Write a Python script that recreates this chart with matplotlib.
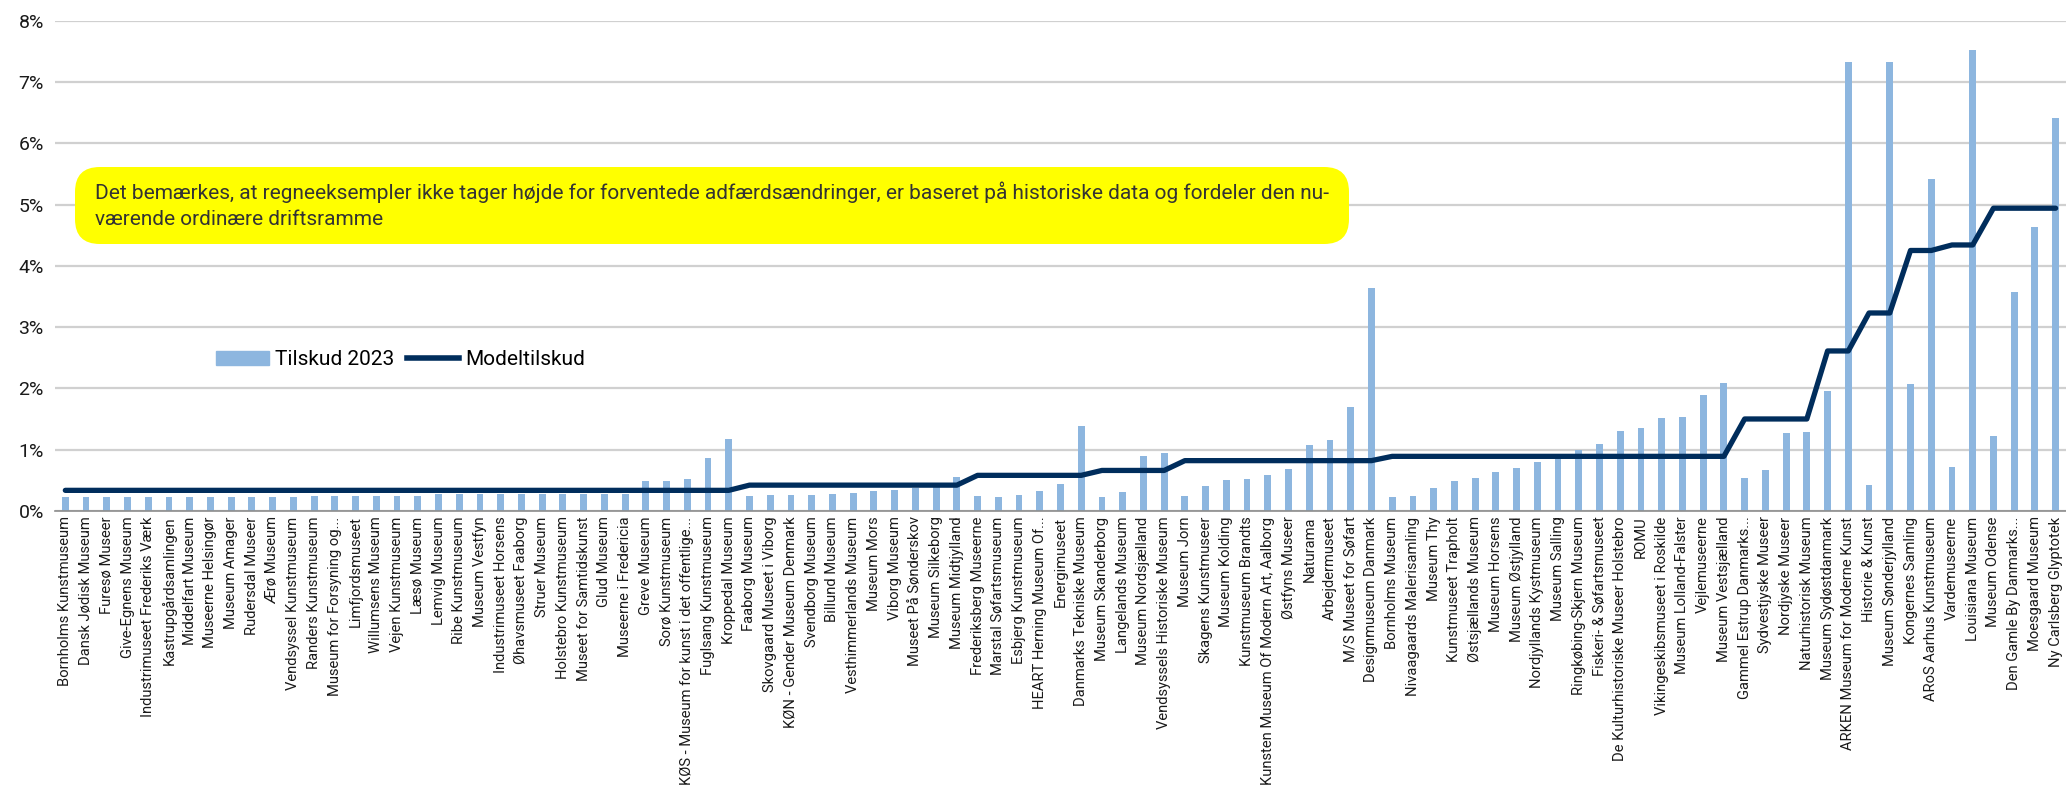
import matplotlib
matplotlib.use("Agg")
from matplotlib import pyplot as plt
from matplotlib.patches import FancyBboxPatch
from matplotlib.lines import Line2D
from matplotlib.patches import Patch
from matplotlib.ticker import FuncFormatter
import numpy as np

plt.rcParams['font.family'] = ['Roboto', 'DejaVu Sans']

museums = [
    "Bornholms Kunstmuseum", "Dansk Jødisk Museum", "Furesø Museer", "Give-Egnens Museum",
    "Industrimuseet Frederiks Værk", "Kastrupgårdsamlingen", "Middelfart Museum",
    "Museerne Helsingør", "Museum Amager", "Rudersdal Museer", "Ærø Museum",
    "Vendsyssel Kunstmuseum", "Randers Kunstmuseum", "Museum for Forsyning og...",
    "Limfjordsmuseet", "Willumsens Museum", "Vejen Kunstmuseum", "Læsø Museum",
    "Lemvig Museum", "Ribe Kunstmuseum", "Museum Vestfyn", "Industrimuseet Horsens",
    "Øhavsmuseet Faaborg", "Struer Museum", "Holstebro Kunstmuseum",
    "Museet for Samtidskunst", "Glud Museum", "Museerne i Fredericia", "Greve Museum",
    "Sorø Kunstmuseum", "KØS - Museum for kunst i det offentlige...", "Fuglsang Kunstmuseum",
    "Kroppedal Museum", "Faaborg Museum", "Skovgaard Museet i Viborg",
    "KØN - Gender Museum Denmark", "Svendborg Museum", "Billund Museum",
    "Vesthimmerlands Museum", "Museum Mors", "Viborg Museum", "Museet På Sønderskov",
    "Museum Silkeborg", "Museum Midtjylland", "Frederiksberg Museerne",
    "Marstal Søfartsmuseum", "Esbjerg Kunstmuseum", "HEART Herning Museum Of...",
    "Energimuseet", "Danmarks Tekniske Museum", "Museum Skanderborg", "Langelands Museum",
    "Museum Nordsjælland", "Vendsyssels Historiske Museum", "Museum Jorn",
    "Skagens Kunstmuseer", "Museum Kolding", "Kunstmuseum Brandts",
    "Kunsten Museum Of Modern Art, Aalborg", "Østfyns Museer", "Naturama",
    "Arbejdermuseet", "M/S Museet for Søfart", "Designmuseum Danmark", "Bornholms Museum",
    "Nivaagaards Malerisamling", "Museum Thy", "Kunstmuseet Trapholt",
    "Østsjællands Museum", "Museum Horsens", "Museum Østjylland",
    "Nordjyllands Kystmuseum", "Museum Salling", "Ringkøbing-Skjern Museum",
    "Fiskeri- & Søfartsmuseet", "De Kulturhistoriske Museer Holstebro", "ROMU",
    "Vikingeskibsmuseet i Roskilde", "Museum Lolland-Falster", "Vejlemuseerne",
    "Museum Vestsjælland", "Gammel Estrup Danmarks...", "Sydvestjyske Museer",
    "Nordjyske Museer", "Naturhistorisk Museum", "Museum Sydøstdanmark",
    "ARKEN Museum for Moderne Kunst", "Historie & Kunst", "Museum Sønderjylland",
    "Kongernes Samling", "ARoS Aarhus Kunstmuseum", "Vardemuseerne", "Louisiana Museum",
    "Museum Odense", "Den Gamle By Danmarks...", "Moesgaard Museum", "Ny Carlsberg Glyptotek",
]

# andel i procent
tilskud_2023 = [
    0.23, 0.23, 0.23, 0.23, 0.23, 0.23, 0.23, 0.23, 0.23, 0.23, 0.23, 0.23, 0.24, 0.25,
    0.25, 0.25, 0.25, 0.25, 0.27, 0.27, 0.27, 0.28, 0.28, 0.28, 0.28, 0.28, 0.28, 0.28,
    0.48, 0.49, 0.52, 0.86, 1.18, 0.24, 0.26, 0.26, 0.26, 0.27, 0.29, 0.33, 0.34, 0.38,
    0.40, 0.56, 0.24, 0.23, 0.26, 0.33, 0.44, 1.38, 0.23, 0.30, 0.90, 0.94, 0.24, 0.40,
    0.50, 0.52, 0.59, 0.69, 1.08, 1.16, 1.70, 3.64, 0.23, 0.25, 0.37, 0.49, 0.53, 0.63,
    0.70, 0.79, 0.85, 0.99, 1.09, 1.30, 1.35, 1.51, 1.54, 1.89, 2.08, 0.53, 0.66, 1.27,
    1.28, 1.95, 7.33, 0.43, 7.33, 2.07, 5.42, 0.71, 7.53, 1.23, 3.58, 4.64, 6.42,
]

modeltilskud = (
    [0.335] * 33 + [0.42] * 11 + [0.58] * 6 + [0.66] * 4 + [0.82] * 10 + [0.89] * 17
    + [1.50] * 4 + [2.61] * 2 + [3.23] * 2 + [4.25] * 2 + [4.34] * 2 + [4.94] * 4
)

note = ("Det bemærkes, at regneeksempler ikke tager højde for forventede adfærdsændringer, "
        "er baseret på historiske data og fordeler den nu-\nværende ordinære driftsramme")

bar_color = "#8DB6DF"
line_color = "#002D5C"


def main():
    fig = plt.figure(figsize=(20.66, 7.97), dpi=100)
    ax = fig.add_axes([0.0266, 0.359, 0.9734, 0.615])

    x = np.arange(len(museums))
    ax.bar(x, tilskud_2023, width=0.33, color=bar_color, zorder=2)
    ax.plot(x, modeltilskud, color=line_color, lw=3.8, solid_capstyle="round",
            solid_joinstyle="round", zorder=3)

    ax.set_xlim(-0.5, len(museums) - 0.5)
    ax.set_ylim(0, 8)
    ax.set_yticks(range(0, 9))
    ax.yaxis.set_major_formatter(FuncFormatter(lambda v, p: f"{v:.0f}%"))
    ax.grid(axis="y", color="#D0D0D0", lw=1.6, zorder=0)
    ax.set_axisbelow(True)

    ax.set_xticks(x)
    ax.set_xticklabels(museums, rotation=90, fontsize=10.6, color="#1a1a1a")
    ax.tick_params(axis="x", length=0, pad=4)
    ax.tick_params(axis="y", length=0, labelsize=14, pad=8, labelcolor="#1a1a1a")

    for s in ("top", "right", "left"):
        ax.spines[s].set_visible(False)
    ax.spines["bottom"].set_color("#8C8C8C")
    ax.spines["bottom"].set_linewidth(1.2)

    # gul note-boks
    box = FancyBboxPatch((75 / 2066, 1 - 244 / 797), (1349 - 75) / 2066, (244 - 167) / 797,
                         boxstyle="round,pad=0,rounding_size=0.012",
                         transform=fig.transFigure, facecolor="#FFFF00",
                         edgecolor="none", mutation_aspect=2066 / 797, zorder=5)
    fig.patches.append(box)
    fig.text(95 / 2066, 1 - 205 / 797, note, fontsize=15, color="#333333",
             va="center", ha="left", linespacing=1.5, zorder=6)

    handles = [Patch(color=bar_color), Line2D([0], [0], color=line_color, lw=4)]
    ax.legend(handles, ["Tilskud 2023", "Modeltilskud"], loc="center left",
              bbox_to_anchor=(0.071, 0.308), ncol=2, frameon=False, fontsize=15,
              handlelength=2.5, handletextpad=0.3, columnspacing=0.6)

    fig.savefig("out.png", dpi=100)


if __name__ == "__main__":
    main()
